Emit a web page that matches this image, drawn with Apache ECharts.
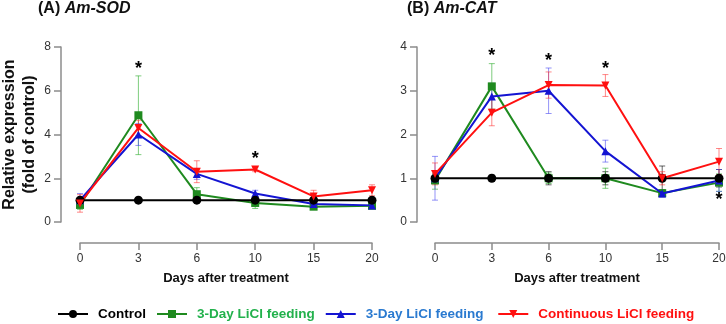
<!DOCTYPE html>
<html>
<head>
<meta charset="utf-8">
<script src="https://cdn.jsdelivr.net/npm/echarts@6/dist/echarts.min.js"></script>
<style>
  html, body { margin: 0; padding: 0; background: #fff; }
  #main { width: 726px; height: 324px; }
</style>
</head>
<body>
<div id="main"></div>
<script>
// x轴天数
const days = ['0', '3', '6', '10', '15', '20'];

// (A) Am-SOD 均值与误差
const sodControl = [1, 1, 1, 1, 1, 1];
const sodControlErr = [0.12, 0.05, 0.06, 0.1, 0.12, 0.06];
const sodGreen = [0.78, 4.88, 1.27, 0.87, 0.7, 0.74];
const sodGreenErr = [0.2, 1.8, 0.3, 0.25, 0.1, 0.1];
const sodBlue = [1.0, 4.0, 2.2, 1.3, 0.82, 0.76];
const sodBlueErr = [0.3, 0.5, 0.25, 0.15, 0.1, 0.1];
const sodRed = [0.85, 4.3, 2.3, 2.4, 1.17, 1.45];
const sodRedErr = [0.4, 0.35, 0.5, 0.1, 0.28, 0.25];
const sodStars = [[1, 7.0], [3, 2.9]];

// (B) Am-CAT 均值与误差
const catControl = [1, 1, 1, 1, 1, 1];
const catControlErr = [0.1, 0.07, 0.15, 0.15, 0.28, 0.2];
const catGreen = [0.95, 3.1, 1.0, 1.0, 0.66, 0.9];
const catGreenErr = [0.2, 0.52, 0.12, 0.23, 0.08, 0.2];
const catBlue = [1.0, 2.87, 3.0, 1.62, 0.65, 0.95];
const catBlueErr = [0.5, 0.3, 0.52, 0.25, 0.08, 0.25];
const catRed = [1.1, 2.5, 3.13, 3.12, 1.0, 1.38];
const catRedErr = [0.25, 0.3, 0.3, 0.25, 0.15, 0.3];
const catStars = [[1, 3.8], [2, 3.68], [3, 3.5], [5, 0.5]];

const names = ['Control', '3-Day LiCl feeding', '3-Day LiCl feeding ', 'Continuous LiCl feeding'];
const lineColors = ['#000000', '#1f8a1f', '#1414d2', '#ff1010'];
const errColors = ['rgba(0,0,0,0.6)', 'rgba(40,170,40,0.6)', 'rgba(60,60,240,0.55)', 'rgba(255,40,40,0.55)'];
const legendColors = ['#000000', '#22b14c', '#2a7ad0', '#ff1010'];
const symbols = ['circle', 'rect', 'triangle', 'triangle'];
const rotates = [0, 0, 0, 180];

const font = 'Liberation Sans';

function errSeries(idx, mean, err, gi) {
  return {
    type: 'custom',
    xAxisIndex: gi, yAxisIndex: gi,
    z: 1,
    silent: true,
    itemStyle: { color: errColors[idx] },
    data: mean.map((m, i) => [i, m, err[i]]),
    renderItem: function (params, api) {
      const x = api.value(0), m = api.value(1), e = api.value(2);
      const hi = api.coord([x, m + e]);
      const lo = api.coord([x, Math.max(0, m - e)]);
      const c = api.visual('color');
      const st = { stroke: c, lineWidth: 1 };
      return {
        type: 'group',
        children: [
          { type: 'line', shape: { x1: hi[0], y1: hi[1], x2: lo[0], y2: lo[1] }, style: st },
          { type: 'line', shape: { x1: hi[0] - 3, y1: hi[1], x2: hi[0] + 3, y2: hi[1] }, style: st },
          { type: 'line', shape: { x1: lo[0] - 3, y1: lo[1], x2: lo[0] + 3, y2: lo[1] }, style: st }
        ]
      };
    }
  };
}

function lineSeries(idx, values, gi) {
  return {
    name: names[idx],
    type: 'line',
    xAxisIndex: gi, yAxisIndex: gi,
    data: values,
    symbol: symbols[idx],
    symbolRotate: rotates[idx],
    symbolSize: idx === 0 ? 9 : 8,
    z: idx === 0 ? 6 : 3 + idx,
    lineStyle: { color: lineColors[idx], width: 2 },
    itemStyle: { color: lineColors[idx] }
  };
}

function starSeries(stars, gi) {
  return {
    type: 'custom',
    xAxisIndex: gi, yAxisIndex: gi,
    silent: true,
    z: 10,
    data: stars,
    renderItem: function (params, api) {
      const p = api.coord([api.value(0), api.value(1)]);
      return {
        type: 'text',
        x: p[0], y: p[1],
        style: { text: '*', fill: '#000', font: 'bold 18px ' + font, align: 'center', verticalAlign: 'middle' }
      };
    }
  };
}

const sodSets = [[sodControl, sodControlErr], [sodGreen, sodGreenErr], [sodBlue, sodBlueErr], [sodRed, sodRedErr]];
const catSets = [[catControl, catControlErr], [catGreen, catGreenErr], [catBlue, catBlueErr], [catRed, catRedErr]];

const series = [];
[sodSets, catSets].forEach(function (sets, gi) {
  sets.forEach(function (s, idx) { series.push(errSeries(idx, s[0], s[1], gi)); });
  sets.forEach(function (s, idx) { series.push(lineSeries(idx, s[0], gi)); });
});
series.push(starSeries(sodStars, 0));
series.push(starSeries(catStars, 1));

const axisGray = '#8c8c8c';
function xAxisCfg(gi) {
  return {
    type: 'category', gridIndex: gi, data: days, boundaryGap: false,
    offset: 21,
    axisLine: { onZero: false, lineStyle: { color: axisGray, width: 1.5 } },
    axisTick: { show: true, length: 7, lineStyle: { color: axisGray, width: 1.5 } },
    axisLabel: { color: '#333', fontFamily: font, fontSize: 12, margin: 10 },
    name: 'Days after treatment', nameLocation: 'middle', nameGap: 29,
    nameTextStyle: { color: '#111', fontFamily: font, fontWeight: 'bold', fontSize: 13 }
  };
}
function yAxisCfg(gi, max, interval, offset) {
  const cfg = {
    type: 'value', gridIndex: gi, min: 0, max: max, interval: interval,
    offset: offset,
    splitLine: { show: false },
    axisLine: { show: true, lineStyle: { color: axisGray, width: 1.5 } },
    axisTick: { show: true, length: 7, lineStyle: { color: axisGray, width: 1.5 } },
    axisLabel: { color: '#333', fontFamily: font, fontSize: 12, margin: 10 }
  };
  if (gi === 0) {
    cfg.name = 'Relative expression\n(fold of control)';
    cfg.nameLocation = 'middle';
    cfg.nameGap = 21;
    cfg.nameRotate = 90;
    cfg.nameTextStyle = { color: '#111', fontFamily: font, fontWeight: 'bold', fontSize: 16, lineHeight: 20 };
  }
  return cfg;
}

const titleRich = {
  a: { fontFamily: font, fontWeight: 'bold', fontSize: 16, color: '#111' },
  b: { fontFamily: font, fontWeight: 'bold', fontStyle: 'italic', fontSize: 16, color: '#111' }
};

const myChart = echarts.init(document.getElementById('main'));
const option = {
  backgroundColor: '#fff',
  animation: false,
  title: [
    { left: 38, top: 1, padding: 0, text: '{a|(A) }{b|Am-SOD}', textStyle: { rich: titleRich } },
    { left: 407, top: 1, padding: 0, text: '{a|(B) }{b|Am-CAT}', textStyle: { rich: titleRich } }
  ],
  legend: {
    left: 57, top: 307, padding: 0,
    itemWidth: 30, itemHeight: 10, itemGap: 10,
    data: names.map((n, i) => ({
      name: n,
      textStyle: { color: legendColors[i], fontFamily: font, fontWeight: 'bold', fontSize: 13.5, padding: [0, 0, 0, 5] }
    }))
  },
  grid: [
    { left: 80, top: 47, width: 292, height: 175, outerBoundsMode: 'none', containLabel: false },
    { left: 435, top: 47, width: 284, height: 175, outerBoundsMode: 'none', containLabel: false }
  ],
  xAxis: [xAxisCfg(0), xAxisCfg(1)],
  yAxis: [yAxisCfg(0, 8, 2, 19), yAxisCfg(1, 4, 1, 18)],
  series: series
};
myChart.setOption(option);
</script>
</body>
</html>
